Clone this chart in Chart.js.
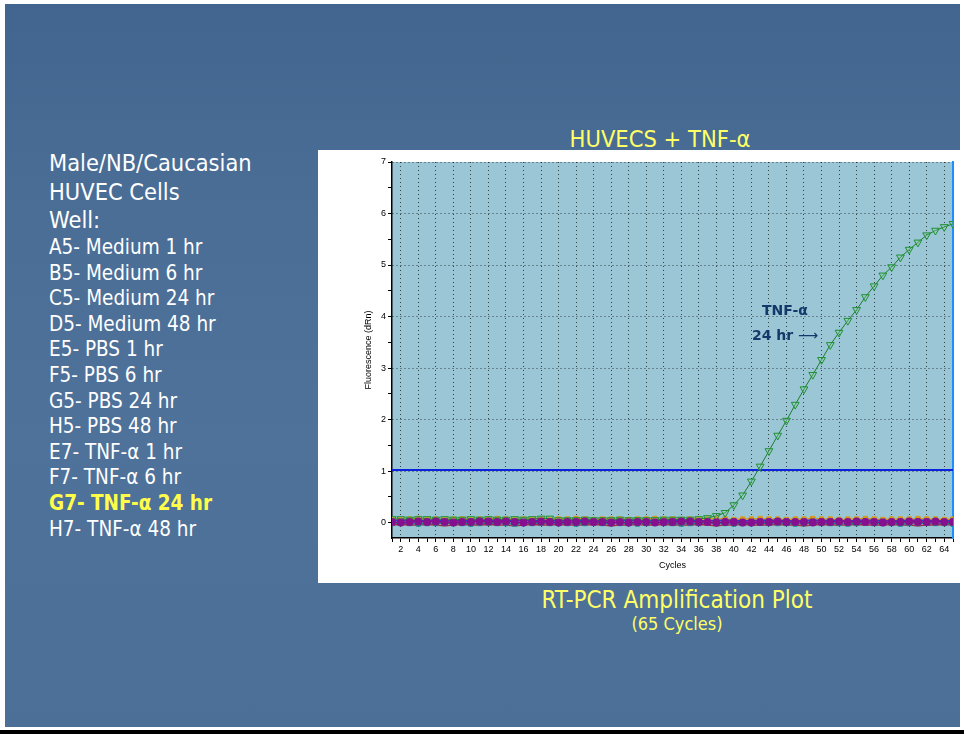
<!DOCTYPE html>
<html>
<head>
<meta charset="utf-8">
<script src="https://cdn.jsdelivr.net/npm/chart.js@4/dist/chart.umd.min.js"></script>
<style>
    body { margin: 0; width: 964px; height: 734px; background: #fff; position: relative; overflow: hidden; }
    #slide {
        position: absolute; left: 5px; top: 4px; width: 955px; height: 723px;
        background: linear-gradient(180deg, #42658f 0%, #4a6d96 25%, #4f729a 60%, #4c6f97 100%);
    }
    #bottom-bar { position: absolute; left: 0; top: 730px; width: 964px; height: 4px; background: #000; }
    .txt { position: absolute; font-family: 'DejaVu Sans Condensed', 'DejaVu Sans', sans-serif; white-space: nowrap; }
    #wells-head { left: 49px; top: 149px; color: #fff; font-size: 23.4px; line-height: 28.5px; }
    #wells { left: 49px; top: 235px; color: #fff; font-size: 20.5px; line-height: 25.6px; }
    #wells .hl { color: #ffff4a; font-weight: bold; }
    #title { left: 460px; width: 400px; top: 125px; text-align: center; color: #ffff66; font-size: 23.5px; }
    #subtitle { left: 477px; width: 400px; top: 586px; text-align: center; color: #ffff66; font-size: 24px; }
    #subtitle2 { left: 477px; width: 400px; top: 613px; text-align: center; color: #ffff66; font-size: 18px; }
    #panel { position: absolute; left: 318px; top: 150px; width: 646px; height: 433px; background: #fff; }
    .note { position: absolute; font-family: 'DejaVu Sans', sans-serif; font-weight: bold; color: #15386a; font-size: 14px; white-space: nowrap; }
</style>
</head>
<body>
<div id="slide"></div>
<div id="bottom-bar"></div>

<div class="txt" id="wells-head">Male/NB/Caucasian<br>HUVEC Cells<br>Well:</div>
<div class="txt" id="wells">
    A5- Medium 1 hr<br>B5- Medium 6 hr<br>C5- Medium 24 hr<br>D5- Medium 48 hr<br>
    E5- PBS 1 hr<br>F5- PBS 6 hr<br>G5- PBS 24 hr<br>H5- PBS 48 hr<br>
    E7- TNF-α 1 hr<br>F7- TNF-α 6 hr<br><span class="hl">G7- TNF-α 24 hr</span><br>H7- TNF-α 48 hr
</div>

<div class="txt" id="title">HUVECS + TNF-α</div>
<div class="txt" id="subtitle">RT-PCR Amplification Plot</div>
<div class="txt" id="subtitle2">(65 Cycles)</div>

<div id="panel"><canvas id="ampChart" width="646" height="433"></canvas></div>
<div class="note" style="left:762px; top:302px;">TNF-α</div>
<div class="note" style="left:752px; top:327px;">24 hr <span style="font-weight:normal">⟶</span></div>

<script>
// cycle numbers (x)
const cycles = [
    1, 2, 3, 4, 5, 6, 7, 8, 9, 10, 11, 12, 13,
    14, 15, 16, 17, 18, 19, 20, 21, 22, 23, 24, 25, 26,
    27, 28, 29, 30, 31, 32, 33, 34, 35, 36, 37, 38, 39,
    40, 41, 42, 43, 44, 45, 46, 47, 48, 49, 50, 51, 52,
    53, 54, 55, 56, 57, 58, 59, 60, 61, 62, 63, 64, 65
];

// G7 - TNF-a 24 hr (the only well that amplifies)
const g7Values = [
    0.07, 0.07, 0.06, 0.07, 0.07, 0.06, 0.07, 0.06, 0.06, 0.07, 0.06, 0.07, 0.06,
    0.06, 0.07, 0.06, 0.07, 0.08, 0.08, 0.05, 0.05, 0.05, 0.06, 0.05, 0.05, 0.05,
    0.06, 0.05, 0.05, 0.05, 0.05, 0.06, 0.06, 0.06, 0.06, 0.07, 0.09, 0.13, 0.19,
    0.34, 0.53, 0.80, 1.09, 1.39, 1.69, 1.98, 2.29, 2.59, 2.87, 3.16, 3.45, 3.69,
    3.92, 4.13, 4.38, 4.59, 4.80, 4.96, 5.15, 5.30, 5.44, 5.58, 5.67, 5.74, 5.80
];

// flat wells sitting on the baseline
const redValues = [
    -0.05, -0.04, -0.05, -0.05, -0.04, -0.05, -0.06, -0.05, -0.04, -0.05, -0.05, -0.04, -0.05,
    -0.05, -0.06, -0.05, -0.04, -0.05, -0.05, -0.04, -0.05, -0.05, -0.05, -0.04, -0.05, -0.06,
    -0.05, -0.05, -0.04, -0.05, -0.05, -0.04, -0.05, -0.05, -0.05, -0.04, -0.05, -0.06, -0.05,
    -0.05, -0.04, -0.05, -0.05, -0.05, -0.04, -0.05, -0.05, -0.06, -0.05, -0.04, -0.05, -0.05,
    -0.05, -0.04, -0.05, -0.05, -0.05, -0.04, -0.05, -0.05, -0.06, -0.05, -0.05, -0.04, -0.05
];
const orangeValues = [
    0.07, 0.06, 0.07, 0.08, 0.07, 0.07, 0.06, 0.07, 0.07, 0.06, 0.07, 0.07, 0.08,
    0.07, 0.06, 0.07, 0.07, 0.07, 0.06, 0.07, 0.07, 0.08, 0.07, 0.06, 0.07, 0.07,
    0.07, 0.06, 0.07, 0.07, 0.08, 0.07, 0.07, 0.06, 0.07, 0.07, 0.07, 0.08, 0.07,
    0.06, 0.07, 0.07, 0.08, 0.07, 0.07, 0.06, 0.07, 0.07, 0.08, 0.07, 0.07, 0.06,
    0.07, 0.07, 0.08, 0.07, 0.06, 0.07, 0.07, 0.07, 0.08, 0.07, 0.07, 0.06, 0.07
];
const tealValues = [
    -0.02, -0.01, -0.02, -0.03, -0.02, -0.02, -0.01, -0.02, -0.02, -0.03, -0.02, -0.01, -0.02,
    -0.02, -0.03, -0.02, -0.02, -0.01, -0.02, -0.02, -0.02, -0.03, -0.02, -0.01, -0.02, -0.02,
    -0.02, -0.02, -0.03, -0.02, -0.01, -0.02, -0.02, -0.03, -0.02, -0.02, -0.01, -0.02, -0.02,
    -0.03, -0.02, -0.02, -0.01, -0.02, -0.02, -0.02, -0.03, -0.02, -0.01, -0.02, -0.02, -0.02,
    -0.03, -0.02, -0.01, -0.02, -0.02, -0.02, -0.03, -0.02, -0.02, -0.01, -0.02, -0.02, -0.03
];
const blueValues = [
    0.04, 0.05, 0.04, 0.03, 0.04, 0.05, 0.04, 0.04, 0.03, 0.04, 0.05, 0.04, 0.04,
    0.03, 0.04, 0.05, 0.04, 0.04, 0.04, 0.03, 0.04, 0.05, 0.04, 0.04, 0.03, 0.04,
    0.04, 0.05, 0.04, 0.03, 0.04, 0.04, 0.05, 0.04, 0.04, 0.03, 0.04, 0.04, 0.05,
    0.04, 0.03, 0.04, 0.04, 0.05, 0.04, 0.04, 0.03, 0.04, 0.05, 0.04, 0.04, 0.04,
    0.03, 0.04, 0.05, 0.04, 0.04, 0.03, 0.04, 0.04, 0.05, 0.04, 0.04, 0.03, 0.04
];
const purpleValues = [
    0.01, 0.00, 0.01, 0.02, 0.01, 0.02, 0.01, 0.00, 0.01, 0.01, 0.02, 0.02, 0.01,
    0.02, 0.01, 0.00, 0.01, 0.02, 0.01, 0.00, 0.01, 0.01, 0.02, 0.01, 0.01, 0.00,
    0.01, 0.00, 0.01, 0.01, 0.00, 0.01, 0.01, 0.02, 0.02, 0.01, 0.01, 0.00, 0.01,
    0.01, 0.00, 0.00, 0.01, 0.01, 0.02, 0.01, 0.01, 0.01, 0.00, 0.01, 0.01, 0.02,
    0.01, 0.02, 0.01, 0.01, 0.00, 0.01, 0.01, 0.02, 0.01, 0.01, 0.02, 0.01, 0.01
];

const thresholdValue = 1.02;

// axis ticks
const xTickLabels = [2, 4, 6, 8, 10, 12, 14, 16, 18, 20, 22, 24, 26, 28, 30, 32,
    34, 36, 38, 40, 42, 44, 46, 48, 50, 52, 54, 56, 58, 60, 62, 64];
const yTickLabels = [0, 1, 2, 3, 4, 5, 6, 7];
const yMinorTicks = [0.5, 1.5, 2.5, 3.5, 4.5, 5.5, 6.5];

const toPoints = vals => cycles.map((c, i) => ({ x: c, y: vals[i] }));

const plotBackground = {
    id: 'plotBackground',
    beforeDraw(chart) {
        const { ctx, chartArea } = chart;
        ctx.save();
        ctx.fillStyle = '#9ac6d6';
        ctx.fillRect(chartArea.left, chartArea.top, chartArea.width, chartArea.height);
        ctx.restore();
    }
};

const gridDots = 'rgba(20, 20, 20, 0.75)';

function baseline(label, vals, color, style, order) {
    return {
        label: label,
        data: toPoints(vals),
        borderColor: color,
        backgroundColor: color,
        borderWidth: 1.5,
        pointStyle: style,
        pointRadius: 3,
        pointBorderWidth: 1,
        order: order
    };
}

new Chart(document.getElementById('ampChart'), {
    type: 'line',
    data: {
        datasets: [
            {
                label: 'H7- TNF-α 48 hr',
                data: toPoints(purpleValues),
                borderColor: '#7a0a8a',
                backgroundColor: '#85108f',
                borderWidth: 1.5,
                pointStyle: 'circle',
                pointRadius: 4,
                pointBorderWidth: 0,
                order: 0
            },
            {
                label: 'G7- TNF-α 24 hr',
                data: toPoints(g7Values),
                borderColor: '#1a7f2c',
                borderWidth: 1,
                pointStyle: 'triangle',
                pointRotation: 180,
                pointRadius: 4.5,
                pointBorderColor: '#1f9034',
                pointBackgroundColor: 'rgba(150, 210, 160, 0.25)',
                pointBorderWidth: 1,
                order: 1
            },
            baseline('E7- TNF-α 1 hr', blueValues, '#2a3cc8', 'crossRot', 2),
            baseline('F5- PBS 6 hr', tealValues, '#1f8a8a', 'rect', 3),
            baseline('C5- Medium 24 hr', orangeValues, '#d89a1c', 'rect', 4),
            baseline('A5- Medium 1 hr', redValues, '#a0303a', 'line', 5),
            {
                label: 'Threshold',
                data: [{ x: cycles[0], y: thresholdValue }, { x: cycles[cycles.length - 1], y: thresholdValue }],
                borderColor: '#0a22e0',
                borderWidth: 2,
                pointRadius: 0,
                order: 6
            }
        ]
    },
    options: {
        responsive: false,
        devicePixelRatio: 1,
        animation: false,
        events: [],
        layout: { padding: { left: 45, right: 11, top: 12, bottom: 0 } },
        plugins: {
            legend: { display: false },
            tooltip: { enabled: false }
        },
        scales: {
            x: {
                type: 'linear',
                min: cycles[0],
                max: cycles[cycles.length - 1],
                afterBuildTicks: scale => { scale.ticks = cycles.map(c => ({ value: c })); },
                afterFit: scale => { scale.height = 45; },
                grid: {
                    color: ctx => (ctx.tick && xTickLabels.includes(ctx.tick.value)) ? gridDots : 'rgba(0,0,0,0)',
                    tickColor: '#000',
                    tickLength: 4,
                    lineWidth: 1
                },
                border: { color: '#000', width: 1.5, dash: [1, 3] },
                ticks: {
                    autoSkip: false,
                    maxRotation: 0,
                    padding: 2,
                    color: '#000',
                    font: { family: "'Liberation Sans', Arial, sans-serif", size: 9 },
                    callback: v => xTickLabels.includes(v) ? String(v) : ''
                },
                title: {
                    display: true,
                    text: 'Cycles',
                    color: '#000',
                    font: { family: "'Liberation Sans', Arial, sans-serif", size: 9 },
                    padding: { top: 4, bottom: 12 }
                }
            },
            y: {
                type: 'linear',
                min: -0.3,
                max: 7,
                afterBuildTicks: scale => {
                    scale.ticks = [...yTickLabels, ...yMinorTicks].sort((a, b) => a - b).map(v => ({ value: v }));
                },
                afterFit: scale => { scale.width = 29; },
                grid: {
                    color: ctx => (ctx.tick && yTickLabels.includes(ctx.tick.value)) ? gridDots : 'rgba(0,0,0,0)',
                    tickColor: '#000',
                    tickLength: 4,
                    lineWidth: 1
                },
                border: { color: '#000', width: 1.5, dash: [1, 3] },
                ticks: {
                    padding: 2,
                    color: '#000',
                    font: { family: "'Liberation Sans', Arial, sans-serif", size: 9 },
                    callback: v => yTickLabels.includes(v) ? String(v) : ''
                },
                title: {
                    display: true,
                    text: 'Fluorescence (dRn)',
                    color: '#000',
                    font: { family: "'Liberation Sans', Arial, sans-serif", size: 9 },
                    padding: { top: 0, bottom: 0 }
                }
            },
            yRight: {
                position: 'right',
                afterFit: scale => { scale.width = 0; },
                grid: { display: false },
                ticks: { display: false },
                border: { color: '#1e8fff', width: 2 }
            }
        }
    },
    plugins: [plotBackground]
});
</script>
</body>
</html>
